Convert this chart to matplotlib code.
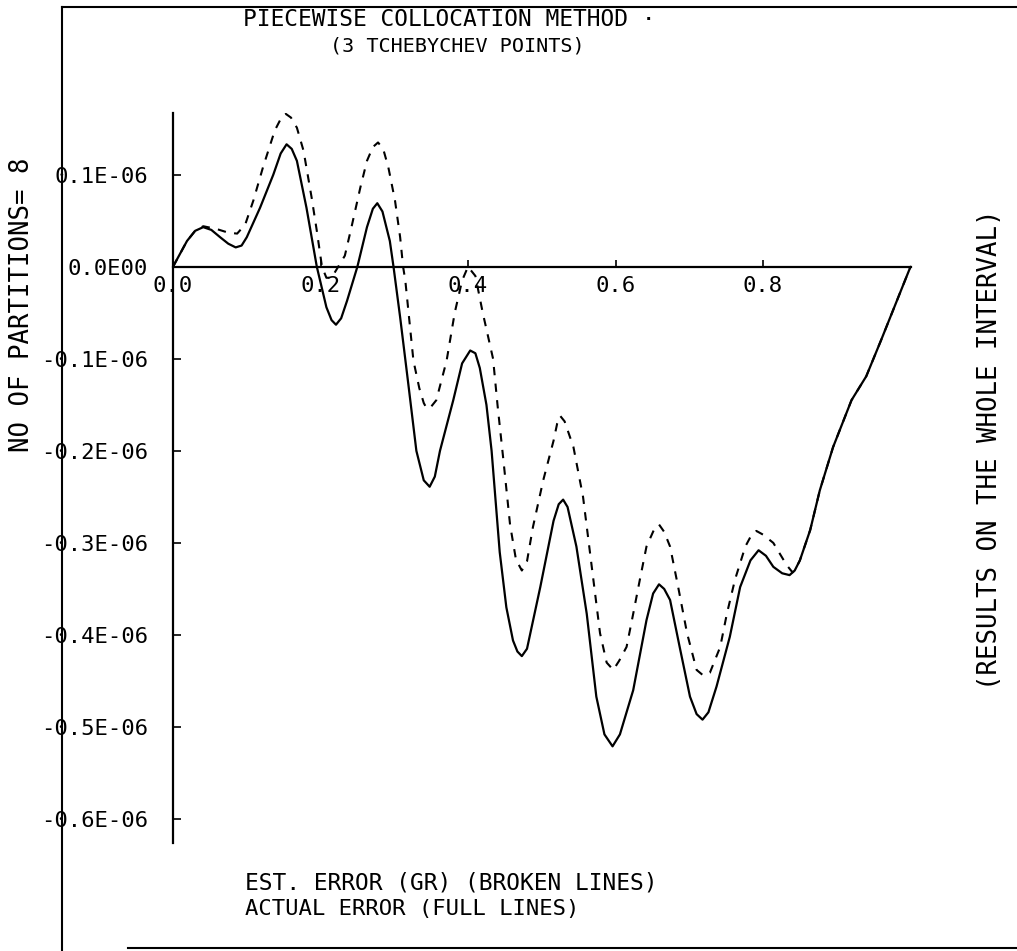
import matplotlib
matplotlib.use("Agg")
import matplotlib.pyplot as plt
from matplotlib.lines import Line2D

# values, y in units of 1E-06
x_actual = [0.000, 0.019, 0.030, 0.041, 0.052, 0.064, 0.075, 0.085, 0.093, 0.100,
            0.118, 0.136, 0.146, 0.154, 0.161, 0.168, 0.181, 0.195, 0.208, 0.215,
            0.221, 0.228, 0.236, 0.250, 0.263, 0.271, 0.277, 0.284, 0.294, 0.299,
            0.308, 0.319, 0.330, 0.340, 0.348, 0.355, 0.362, 0.380, 0.392, 0.403,
            0.410, 0.416, 0.425, 0.432, 0.438, 0.443, 0.452, 0.461, 0.467, 0.473,
            0.480, 0.498, 0.516, 0.523, 0.529, 0.535, 0.547, 0.561, 0.574, 0.585,
            0.596, 0.606, 0.624, 0.642, 0.651, 0.659, 0.666, 0.674, 0.687, 0.701,
            0.710, 0.718, 0.726, 0.737, 0.755, 0.769, 0.783, 0.794, 0.804, 0.814,
            0.826, 0.836, 0.843, 0.850, 0.864, 0.877, 0.895, 0.920, 0.940, 0.960,
            0.980, 1.000]
err_actual = [0.000, 0.028, 0.039, 0.043, 0.040, 0.032, 0.025, 0.021, 0.023, 0.032,
              0.064, 0.100, 0.123, 0.133, 0.128, 0.115, 0.064, 0.000, -0.044, -0.058,
              -0.063, -0.056, -0.037, 0.000, 0.043, 0.063, 0.069, 0.060, 0.028, 0.000,
              -0.055, -0.127, -0.200, -0.232, -0.239, -0.228, -0.200, -0.145, -0.105, -0.091,
              -0.094, -0.110, -0.150, -0.200, -0.260, -0.310, -0.370, -0.406, -0.418, -0.423,
              -0.415, -0.348, -0.276, -0.258, -0.253, -0.261, -0.304, -0.377, -0.467, -0.508,
              -0.521, -0.508, -0.460, -0.384, -0.355, -0.345, -0.350, -0.362, -0.413, -0.467,
              -0.486, -0.492, -0.484, -0.456, -0.402, -0.348, -0.319, -0.308, -0.314, -0.326,
              -0.333, -0.335, -0.330, -0.319, -0.286, -0.243, -0.196, -0.145, -0.119, -0.080,
              -0.040, 0.000]

x_est = [0.000, 0.019, 0.030, 0.041, 0.059, 0.075, 0.087, 0.098, 0.109, 0.122,
         0.138, 0.147, 0.153, 0.160, 0.168, 0.177, 0.188, 0.195, 0.202, 0.208,
         0.215, 0.224, 0.233, 0.242, 0.254, 0.263, 0.271, 0.278, 0.285, 0.292,
         0.301, 0.308, 0.312, 0.315, 0.326, 0.334, 0.340, 0.344, 0.350, 0.357,
         0.371, 0.382, 0.392, 0.400, 0.410, 0.420, 0.434, 0.440, 0.448, 0.457,
         0.465, 0.473, 0.480, 0.488, 0.502, 0.516, 0.521, 0.525, 0.531, 0.543,
         0.556, 0.570, 0.579, 0.588, 0.597, 0.605, 0.615, 0.624, 0.633, 0.642,
         0.652, 0.659, 0.666, 0.674, 0.685, 0.697, 0.710, 0.719, 0.728, 0.742,
         0.751, 0.762, 0.776, 0.784, 0.791, 0.800, 0.814, 0.832, 0.840]
err_est = [0.000, 0.028, 0.039, 0.044, 0.041, 0.037, 0.036, 0.046, 0.072, 0.108,
           0.148, 0.162, 0.166, 0.162, 0.151, 0.126, 0.075, 0.039, 0.000, -0.012,
           -0.012, 0.000, 0.012, 0.043, 0.086, 0.115, 0.130, 0.135, 0.128, 0.108,
           0.072, 0.032, 0.000, -0.015, -0.102, -0.132, -0.148, -0.154, -0.152, -0.145,
           -0.102, -0.050, -0.015, 0.000, -0.010, -0.050, -0.100, -0.150, -0.210, -0.280,
           -0.318, -0.330, -0.320, -0.283, -0.232, -0.189, -0.170, -0.162, -0.168, -0.196,
           -0.250, -0.340, -0.398, -0.430, -0.438, -0.428, -0.413, -0.377, -0.340, -0.304,
           -0.286, -0.280, -0.288, -0.304, -0.348, -0.398, -0.438, -0.444, -0.441, -0.413,
           -0.377, -0.340, -0.304, -0.292, -0.287, -0.291, -0.300, -0.324, -0.332]

x_ticks = [0.0, 0.2, 0.4, 0.6, 0.8]
x_labels = ["0.0", "0.2", "0.4", "0.6", "0.8"]
y_ticks = [0.1, 0.0, -0.1, -0.2, -0.3, -0.4, -0.5, -0.6]
y_labels = ["0.1E-06", "0.0E00", "-0.1E-06", "-0.2E-06", "-0.3E-06",
            "-0.4E-06", "-0.5E-06", "-0.6E-06"]

W, H = 1017, 951
# plotter lettering is fixed pitch
plt.rcParams['font.family'] = ['DejaVu Sans Mono']

fig = plt.figure(figsize=(W / 100, H / 100), dpi=100)
fig.patch.set_facecolor('white')

ax = fig.add_axes([173 / W, 1 - 843 / H, 740 / W, 730 / H])
ax.plot(x_actual, err_actual, color='black', lw=1.6, solid_capstyle='round')
# the broken line runs under the full one after x ~ 0.84
ax.plot(x_est + x_actual[82:], err_est + err_actual[82:], color='black', lw=1.5,
        linestyle=(0, (4, 4)))

ax.set_xlim(0, 740 / 737.5)
ax.set_ylim(-0.626, 0.167)
for s in ['top', 'right']:
    ax.spines[s].set_visible(False)
ax.spines['bottom'].set_position(('data', 0))
ax.spines['bottom'].set_bounds(0, 1.0)
ax.spines['bottom'].set_linewidth(1.6)
ax.spines['left'].set_linewidth(1.6)

ax.set_xticks(x_ticks)
ax.set_xticklabels(x_labels)
ax.set_yticks(y_ticks)
ax.set_yticklabels(y_labels)
ax.tick_params(axis='x', direction='in', length=5, width=1.2, pad=7, labelsize=16)
ax.tick_params(axis='y', direction='in', length=6, width=1.2, pad=18, labelsize=16)
ax.patch.set_alpha(0)

# text around the plot
fig.text(243 / W, 1 - 19 / H, "PIECEWISE COLLOCATION METHOD \u00b7", fontsize=16.5,
         ha='left', va='center')
fig.text(330 / W, 1 - 46 / H, "(3 TCHEBYCHEV POINTS)", fontsize=14.5,
         ha='left', va='center')
fig.text(22 / W, 1 - 305 / H, "NO OF PARTITIONS= 8", fontsize=18.5, rotation=90,
         ha='center', va='center')
fig.text(990 / W, 1 - 450 / H, "(RESULTS ON THE WHOLE INTERVAL)", fontsize=18.5,
         rotation=90, ha='center', va='center')
fig.text(245 / W, 1 - 883 / H, "EST. ERROR (GR) (BROKEN LINES)", fontsize=16.5,
         ha='left', va='center')
fig.text(245 / W, 1 - 909 / H, "ACTUAL ERROR (FULL LINES)", fontsize=16,
         ha='left', va='center')

# outer frame of the plotter sheet
fig.add_artist(Line2D([62 / W, 62 / W], [0, 1 - 7 / H], transform=fig.transFigure,
                      color='black', lw=1.5))
fig.add_artist(Line2D([62 / W, 1], [1 - 7 / H, 1 - 7 / H], transform=fig.transFigure,
                      color='black', lw=1.5))
fig.add_artist(Line2D([128 / W, 1], [1 - 948 / H, 1 - 948 / H], transform=fig.transFigure,
                      color='black', lw=1.5))

fig.savefig("out.png", dpi=100)
